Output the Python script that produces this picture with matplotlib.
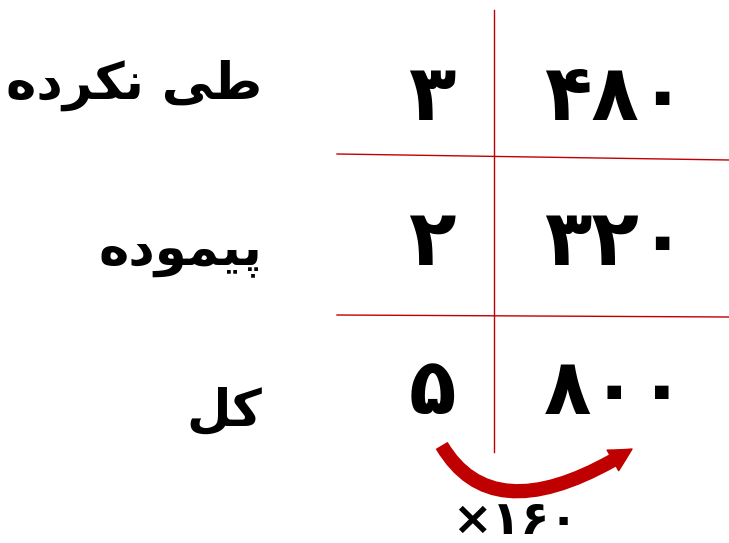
import matplotlib
matplotlib.use('Agg')
import matplotlib.pyplot as plt
from matplotlib.patches import FancyArrowPatch
from matplotlib.path import Path

# row labels (Persian) and the two columns of values
labels = ['طی نکرده', 'پیموده', 'کل']
parts = ['۳', '۲', '۵']
values = ['۴۸۰', '۳۲۰', '۸۰۰']
factor = '×۱۶۰'

# presentation forms: isolated, final, initial, medial
FORMS = {
    'ط': ('\uFEC1', '\uFEC2', '\uFEC3', '\uFEC4'),
    'ی': ('\uFEEF', '\uFEF0', '\uFEF3', '\uFEF4'),
    'ن': ('\uFEE5', '\uFEE6', '\uFEE7', '\uFEE8'),
    'ک': ('\uFB8E', '\uFB8F', '\uFB90', '\uFB91'),
    'ر': ('\uFEAD', '\uFEAE', None, None),
    'د': ('\uFEA9', '\uFEAA', None, None),
    'ه': ('\uFEE9', '\uFEEA', '\uFEEB', '\uFEEC'),
    'پ': ('\uFB56', '\uFB57', '\uFB58', '\uFB59'),
    'م': ('\uFEE1', '\uFEE2', '\uFEE3', '\uFEE4'),
    'و': ('\uFEED', '\uFEEE', None, None),
    'ل': ('\uFEDD', '\uFEDE', '\uFEDF', '\uFEE0'),
}


def joins_left(ch):
    """ can this letter connect to the following one """
    return ch in FORMS and FORMS[ch][2] is not None


def shape(text):
    """ crude arabic shaping + reversal, matplotlib has no bidi """
    out = []
    for i, ch in enumerate(text):
        if ch not in FORMS:
            out.append(ch)
            continue
        prev = text[i - 1] if i > 0 else ' '
        nxt = text[i + 1] if i + 1 < len(text) else ' '
        from_prev = joins_left(prev)
        to_next = joins_left(ch) and nxt in FORMS
        iso, fin, ini, med = FORMS[ch]
        if from_prev and to_next:
            out.append(med)
        elif from_prev:
            out.append(fin)
        elif to_next:
            out.append(ini)
        else:
            out.append(iso)
    return ''.join(out[::-1])


W, H = 729, 543
fig = plt.figure(figsize=(W / 100, H / 100), dpi=100)
ax = fig.add_axes([0, 0, 1, 1])
ax.set_xlim(0, W)
ax.set_ylim(H, 0)
ax.axis('off')

red = '#C00000'
ax.plot([494, 494], [10, 452], color=red, lw=1)
ax.plot([337, 729], [154, 160], color=red, lw=1)
ax.plot([337, 729], [315, 317], color=red, lw=1)

font = ['DejaVu Sans']
label_x = [262, 262, 262]
label_y = [85, 252, 412]
row_y = [98, 243, 392]
for i in range(3):
    ax.text(label_x[i], label_y[i], shape(labels[i]), ha='right', va='center',
            fontsize=37, fontweight='bold', family=font)
    ax.text(432, row_y[i], parts[i], ha='center', va='center',
            fontsize=56, fontweight='bold', family=font)
    ax.text(615, row_y[i], values[i], ha='center', va='center',
            fontsize=56, fontweight='bold', family=font)

# curved arrow from the 5 to the 800
arc = Path([(442, 446), (495, 535), (632, 449)],
           [Path.MOVETO, Path.CURVE3, Path.CURVE3])
arr = FancyArrowPatch(path=arc,
                      arrowstyle='simple,head_width=17,head_length=16,tail_width=9',
                      color=red, mutation_scale=1)
ax.add_patch(arr)
ax.text(515, 522, factor, ha='center', va='center', fontsize=34,
        fontweight='bold', family=font)

fig.savefig('out.png', dpi=100)
